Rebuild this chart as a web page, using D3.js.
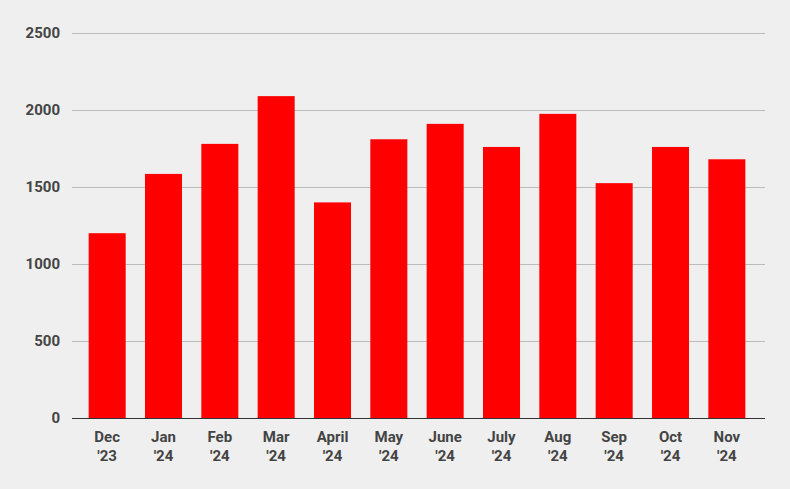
<!DOCTYPE html>
<html><head><meta charset="utf-8">
<script src="https://cdn.jsdelivr.net/npm/d3@7"></script>
<style>body{margin:0;background:#efefef}</style></head>
<body><svg id="c" width="790" height="489"></svg>
<script>
const categories=[["Dec","'23"],["Jan","'24"],["Feb","'24"],["Mar","'24"],["April","'24"],["May","'24"],["June","'24"],["July","'24"],["Aug","'24"],["Sep","'24"],["Oct","'24"],["Nov","'24"]];
const values=[1200,1585,1780,2090,1400,1810,1910,1760,1975,1525,1760,1680];
const yTicks=[0,500,1000,1500,2000,2500];
const svg=d3.select("#c");
svg.append("rect").attr("width",790).attr("height",489).attr("fill","#efefef");
const x=d3.scaleBand().domain(categories.map((d,i)=>i)).range([79,755]).paddingInner(0.343).paddingOuter(0.1715);
const y=d3.scaleLinear().domain([0,2500]).range([418,33]);
const font="Roboto, Arial, sans-serif";
svg.selectAll(".g").data(yTicks).join("line").attr("x1",72).attr("x2",765).attr("y1",d=>y(d)+0.5).attr("y2",d=>y(d)+0.5).attr("stroke",d=>d===0?"#333":"#bbb").attr("stroke-width",1);
svg.selectAll(".yl").data(yTicks).join("text").attr("x",60).attr("y",d=>y(d)+5).attr("text-anchor","end").attr("font-family",font).attr("font-weight","bold").attr("font-size",15).attr("fill","#444").text(d=>d);
svg.selectAll(".b").data(values).join("rect").attr("x",(d,i)=>x(i)).attr("width",x.bandwidth()).attr("y",d=>y(d)).attr("height",d=>y(0)-y(d)).attr("fill","#ff0000");
// redraw baseline on top
svg.append("line").attr("x1",72).attr("x2",765).attr("y1",y(0)+0.5).attr("y2",y(0)+0.5).attr("stroke","#333");
const xl=svg.selectAll(".xl").data(categories).join("text").attr("text-anchor","middle").attr("font-family",font).attr("font-weight","bold").attr("font-size",15).attr("fill","#444");
xl.append("tspan").attr("x",(d,i)=>x(i)+x.bandwidth()/2).attr("y",442).text(d=>d[0]);
xl.append("tspan").attr("x",(d,i)=>x(i)+x.bandwidth()/2).attr("y",461).text(d=>d[1]);
</script></body></html>
